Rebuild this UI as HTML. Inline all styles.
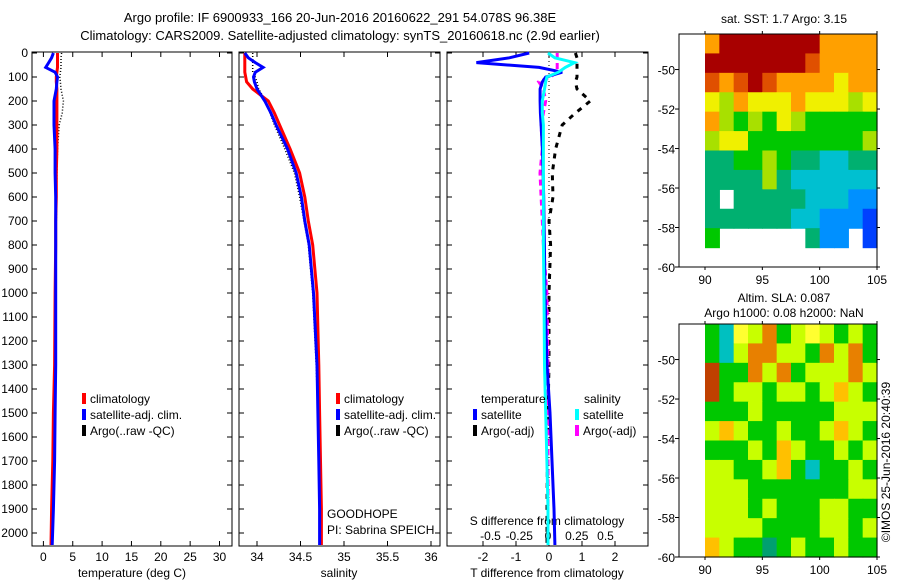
<!DOCTYPE html>
<html><head><meta charset="utf-8"><style>
body{margin:0;background:#fff;}
svg{display:block;font-family:"Liberation Sans",sans-serif;font-size:12px;}
</style></head><body>
<svg id="fig" width="900" height="580" xmlns="http://www.w3.org/2000/svg">
<text x="340" y="22" text-anchor="middle" font-size="13">Argo profile: IF 6900933_166 20-Jun-2016 20160622_291 54.078S 96.38E</text>
<text x="340" y="40" text-anchor="middle" font-size="13">Climatology: CARS2009. Satellite-adjusted climatology: synTS_20160618.nc (2.9d earlier)</text>
<g id="g"></g>
</svg>
<script>
// ---- data ----
const depths=[0,20,40,60,80,100,120,150,200,250,300,400,500,600,700,800,1000,1300,1500,1700,1900,2050];
const tempClim=[2.4,2.4,2.4,2.4,2.3,2.2,2.2,2.3,2.3,2.3,2.3,2.3,2.2,2.2,2.1,2.1,2.0,1.9,1.7,1.6,1.4,1.3];
const tempSat=[1.7,1.4,0.9,0.4,2.0,2.4,2.3,2.2,1.8,1.8,1.8,2.0,2.0,2.1,2.1,2.1,2.1,2.1,2.0,1.9,1.7,1.5];
const tempArgo=[3.1,3.0,3.0,3.0,2.9,2.8,2.9,3.0,3.4,3.2,2.7,2.4,2.3,2.25,2.2,2.15,2.1,2.0,1.8,1.6,1.5,1.4];
const salClim=[33.86,33.86,33.86,33.86,33.86,33.87,33.88,33.95,34.13,34.2,34.26,34.38,34.49,34.55,34.59,34.64,34.69,34.71,34.72,34.73,34.74,34.74];
const salSat=[33.86,33.9,33.98,34.07,33.98,33.96,33.97,34.0,34.09,34.16,34.22,34.35,34.45,34.51,34.55,34.6,34.65,34.69,34.7,34.71,34.72,34.72];
const salArgo=[33.95,33.95,33.95,33.95,33.95,33.98,34.0,34.02,34.1,34.15,34.2,34.32,34.43,34.49,34.54,34.59,34.64,34.68,34.7,34.71,34.72,34.72];
const tDiffSat=[-0.6,-1.2,-2.2,-0.3,0.4,-0.1,-0.2,-0.27,-0.27,-0.26,-0.24,-0.2,-0.18,-0.16,-0.15,-0.14,-0.12,-0.06,0.03,0.09,0.15,0.18];
const tDiffArgo=[0.8,0.85,0.85,0.85,0.85,0.85,0.8,0.85,1.25,0.8,0.4,0.2,0.1,0.12,0.0,0.05,0.0,0.0,-0.03,-0.05,-0.06,-0.06];
const sDiffSat=[0.0,0.06,0.23,0.15,0.09,-0.01,-0.02,-0.03,-0.05,-0.05,-0.04,-0.04,-0.04,-0.04,-0.04,-0.04,-0.035,-0.03,-0.02,-0.01,0.0,0.0];
const sDiffArgo=[0.08,0.08,0.08,0.08,0.08,0.02,-0.08,-0.04,-0.02,-0.04,-0.06,-0.05,-0.07,-0.06,-0.05,-0.04,-0.01,0.0,0.0,0.0,0.0,0.0];
const depthTicks=[0,100,200,300,400,500,600,700,800,900,1000,1100,1200,1300,1400,1500,1600,1700,1800,1900,2000];
const tempTicks=[0,5,10,15,20,25,30];
const salTicks=[34,34.5,35,35.5,36];
const tdTicks=[-2,-1,0,1,2];
const sdTicks=[-0.5,-0.25,0,0.25,0.5];
const latTicks=[-50,-52,-54,-56,-58,-60];
const lonTicks=[90,95,100,105];
// SST map levels (rows north->south, cols west->east), '.' = no data
const sstRows=["8AAAAAAA8888","AAAAAAA98888","989A98888788","768777877767","865657655555","677555555556","445565443344","444464333333","4.4444433322","444444332221","5......422.1","............"];
const slaRows=["gcYyOgyYygyg","gcyOOyygOyOg","RggOyOgyyyOy","Rgyygyygyoyg","gggygggg yyy","yoyggyggyoyg","gggygoyggygy","yyggyogcggyg","yyygggggggyyg","yyygygggyygg","yyyyggg yygyg","oyggGgyggygg"];
const sstColors={"0":"#00007f","1":"#0040ff","2":"#0090ff","3":"#00c0d0","4":"#00b070","5":"#00c800","6":"#a8e000","7":"#f0f000","8":"#ffa000","9":"#e05000","A":"#a80000"};
const slaColors={g:"#00c800",G:"#00a070",c:"#00c0c0",y:"#c8ff00",Y:"#ffff30",o:"#ffc000",O:"#e88000",R:"#c04000"," ":"#00c800"};

const NS="http://www.w3.org/2000/svg";
const G=document.getElementById('g');
function el(t,a,p){const e=document.createElementNS(NS,t);for(const k in a)e.setAttribute(k,a[k]);(p||G).appendChild(e);return e;}
const Y0=53,PXM=0.24,YB=546;
const yD=d=>Y0+d*PXM;
const xT=v=>43.4+v*5.87;
const xS=v=>257+(v-34)*87;
const xTd=v=>549+v*33;
const xSd=v=>548+v*115;

function panel(x0,x1,name){
  const r=el('rect',{x:x0,y:Y0-1,width:x1-x0,height:YB-Y0+1,fill:'none',stroke:'#000','stroke-width':1});
  
  
  depthTicks.forEach(d=>{el('line',{x1:x0,x2:x0+5,y1:yD(d),y2:yD(d),stroke:'#000'});el('line',{x1:x1,x2:x1-5,y1:yD(d),y2:yD(d),stroke:'#000'});});
}
function xticks(ticks,fx,x0,name,title,tx){
  ticks.forEach(t=>{const x=fx(t);el('line',{x1:x,x2:x,y1:YB,y2:YB-5,stroke:'#000'});el('line',{x1:x,x2:x,y1:Y0-1,y2:Y0+4,stroke:'#000'});
    const tt=el('text',{x:x,y:561,'text-anchor':'middle'});tt.textContent=t;
    
    });
  const ti=el('text',{x:tx,y:577,'text-anchor':'middle'});ti.textContent=title;
  
  
}
function line(vals,fx,color,w,dash,name){
  const pts=vals.map((v,i)=>fx(v).toFixed(1)+','+yD(depths[i]).toFixed(1)).join(' ');
  const a={points:pts,fill:'none',stroke:color,'stroke-width':w};
  if(dash)a['stroke-dasharray']=dash;
  const p=el('polyline',a);
  
  
}
function txt(x,y,s,name,anchor){const t=el('text',{x:x,y:y,'text-anchor':anchor||'start'});t.textContent=s;
  
  return t;}
function legItem(x,y,color,s,name){el('rect',{x:x,y:y-10,width:4,height:11,fill:color});txt(x+8,y,s,name);}

// panels
panel(32,232,'temperature-panel');panel(239,440,'salinity-panel');panel(447,648,'difference-panel');
depthTicks.forEach(d=>txt(28,yD(d)+4,d,'depth-tick-label','end'));
xticks(tempTicks,xT,32,'temperature','temperature (deg C)',132);
xticks(salTicks,xS,239,'salinity','salinity',339);
xticks(tdTicks,xTd,447,'t-difference','T difference from climatology',547);
sdTicks.forEach(t=>{const x=xSd(t);txt(x,540,t,'s-difference-tick-label','middle');});
txt(547,525,'S difference from climatology','s-difference-axis-title','middle');

// temperature
line(tempArgo,xT,'#000',1.5,'1,2','temp-argo-line');
line(tempClim,xT,'#ff0000',3,null,'temp-climatology-line');
line(tempSat,xT,'#0000ff',3,null,'temp-satellite-line');
legItem(82,403,'#ff0000','climatology','legend-climatology');
legItem(82,419,'#0000ff','satellite-adj. clim.','legend-satellite');
legItem(82,435,'#000','Argo(..raw -QC)','legend-argo');
// salinity
line(salArgo,xS,'#000',1.5,'1,2','sal-argo-line');
line(salClim,xS,'#ff0000',3,null,'sal-climatology-line');
line(salSat,xS,'#0000ff',3,null,'sal-satellite-line');
legItem(336,403,'#ff0000','climatology','legend-climatology-sal');
legItem(336,419,'#0000ff','satellite-adj. clim.','legend-satellite-sal');
legItem(336,435,'#000','Argo(..raw -QC)','legend-argo-sal');
txt(327,518,'GOODHOPE','project-label');
txt(327,534,'PI: Sabrina SPEICH','pi-label');
// differences
el('line',{x1:549,x2:549,y1:Y0,y2:YB,stroke:'#000','stroke-dasharray':'1,3'});
line(tDiffArgo,xTd,'#000',3,'5,6','tdiff-argo-line');
line(sDiffArgo,xSd,'#ff00ff',3,'6,4','sdiff-argo-line');
line(tDiffSat,xTd,'#0000ff',3,null,'tdiff-satellite-line');
line(sDiffSat,xSd,'#00ffff',3,null,'sdiff-satellite-line');
txt(481,403,'temperature','legend-temperature-header');
txt(584,403,'salinity','legend-salinity-header');
legItem(473,419,'#0000ff','satellite','legend-t-satellite');
legItem(473,435,'#000','Argo(-adj)','legend-t-argo');
legItem(575,419,'#00ffff','satellite','legend-s-satellite');
legItem(575,435,'#ff00ff','Argo(-adj)','legend-s-argo');

// maps
function map(top,bot,rows,colors,name){
  const xL=679,xR=877,xl0=705;
  const lonX=v=>705+(v-90)*(172/15);
  const latY=v=>top+(-48.2-v)*((bot-top)/11.8);
  const cw=(xR-xl0)/12,ch=(bot-top)/rows.length;
  rows.forEach((r,i)=>{for(let j=0;j<12;j++){const c=r[j];if(c===undefined||c==='.')continue;
    const cell=el('rect',{x:xl0+j*cw,y:top+i*ch,width:cw+0.6,height:ch+0.6,fill:colors[c]||'#00c800'});
    
    }});
  const b=el('rect',{x:xL,y:top,width:xR-xL,height:bot-top,fill:'none',stroke:'#000'});
  
  
  latTicks.forEach(v=>{const y=latY(v);el('line',{x1:xL,x2:xL-4,y1:y,y2:y,stroke:'#000'});el('line',{x1:xR,x2:xR+3,y1:y,y2:y,stroke:'#000'});txt(675,y+5,v,name+'-lat-label','end');});
  lonTicks.forEach(v=>{const x=lonX(v);el('line',{x1:x,x2:x,y1:bot,y2:bot+3,stroke:'#000'});el('line',{x1:x,x2:x,y1:top,y2:top-3,stroke:'#000'});txt(x,bot+17,v,name+'-lon-label','middle');});
}
map(34,267,sstRows,sstColors,'sst-map');
map(324,557,slaRows,slaColors,'sla-map');
txt(784,23,'sat. SST: 1.7 Argo: 3.15','sst-map-title','middle');
txt(784,302,'Altim. SLA: 0.087','sla-map-title','middle');
txt(784,317,'Argo h1000: 0.08 h2000: NaN','sla-map-subtitle','middle');
const v=txt(0,0,'©IMOS 25-Jun-2016 20:40:39','imos-timestamp','middle');
v.setAttribute('transform','translate(890,462) rotate(-90)');
</script>
</body></html>
